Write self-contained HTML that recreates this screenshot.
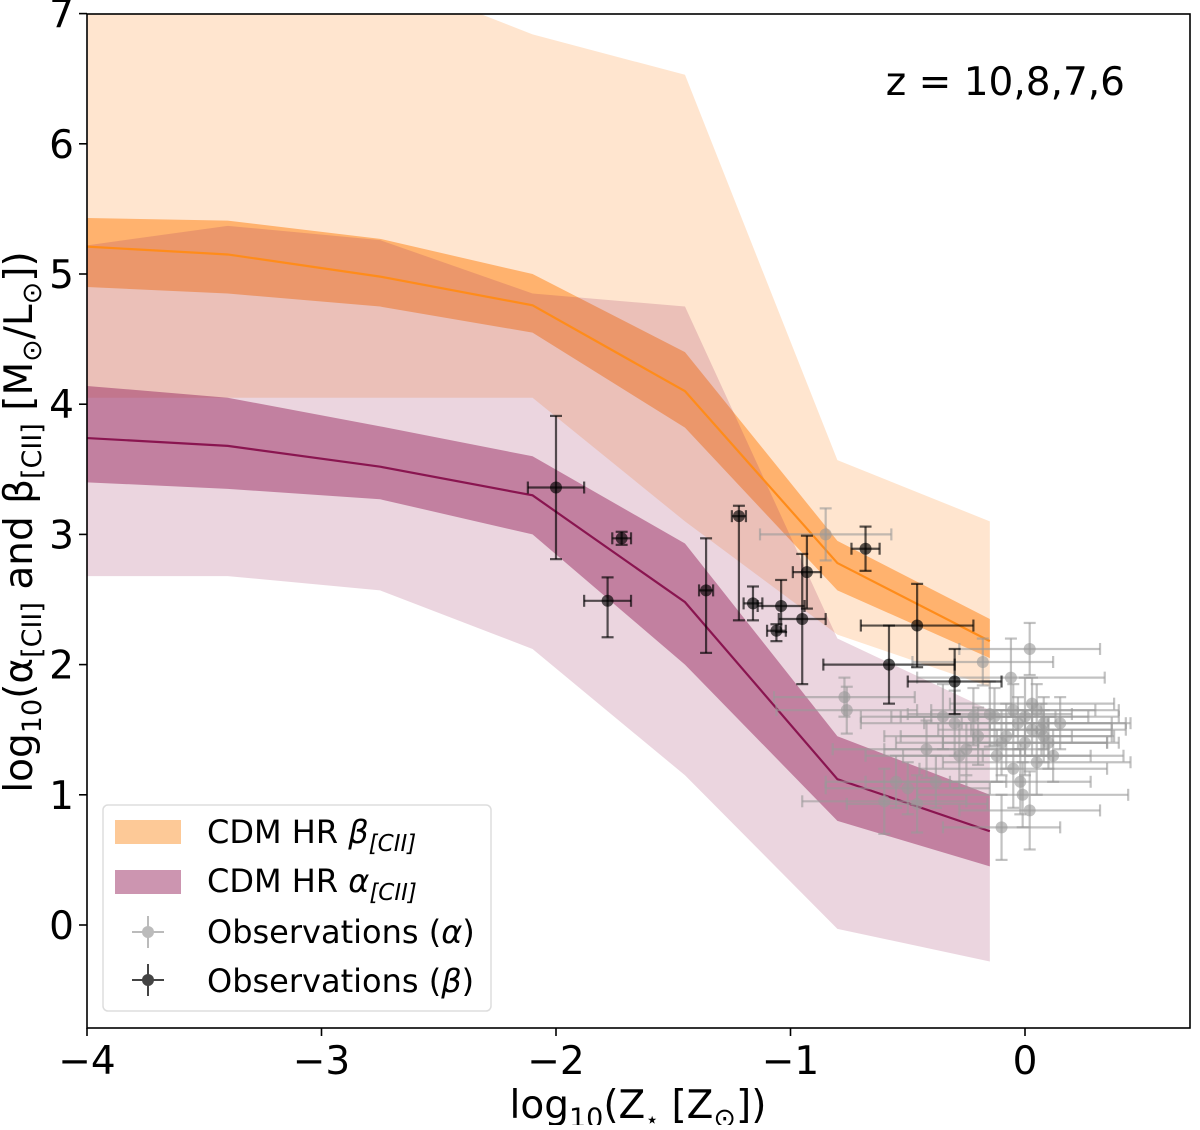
<!DOCTYPE html>
<html><head><meta charset="utf-8"><style>
html,body{margin:0;padding:0;background:#fff;}
svg text{font-family:"DejaVu Sans","Liberation Sans",sans-serif;}
</style></head><body>
<svg id="chart" width="1200" height="1125" viewBox="0 0 1200 1125" xmlns="http://www.w3.org/2000/svg">
<defs><clipPath id="clip"><rect x="87" y="14" width="1103" height="1014"/></clipPath></defs>
<g id="plot" clip-path="url(#clip)"></g>
<g id="axes"></g>
</svg>
<script>
const gridX = [-4, -3.4, -2.75, -2.1, -1.45, -0.8, -0.15];
const betaMed = [5.21, 5.15, 4.98, 4.76, 4.1, 2.78, 2.18];
const betaDarkUp = [5.43, 5.41, 5.27, 5.0, 4.4, 2.95, 2.35];
const betaDarkLo = [4.9, 4.85, 4.75, 4.55, 3.82, 2.57, 2.05];
const betaLightUp = [7.8, 7.6, 7.3, 6.84, 6.53, 3.57, 3.1];
const betaLightLo = [4.05, 4.05, 4.05, 4.05, 3.1, 2.23, 1.83];
const alphaMed = [3.74, 3.68, 3.52, 3.3, 2.48, 1.12, 0.72];
const alphaDarkUp = [4.14, 4.05, 3.83, 3.6, 2.93, 1.45, 1.0];
const alphaDarkLo = [3.4, 3.35, 3.27, 3.0, 2.0, 0.8, 0.45];
const alphaLightUp = [5.22, 5.37, 5.26, 4.85, 4.75, 2.2, 1.65];
const alphaLightLo = [2.68, 2.68, 2.57, 2.12, 1.15, -0.03, -0.28];
const obsBx = [-2.0, -1.78, -1.72, -1.36, -1.22, -1.16, -1.04, -1.06, -0.95, -0.93, -0.68, -0.58, -0.46, -0.3];
const obsBy = [3.36, 2.49, 2.97, 2.57, 3.14, 2.47, 2.45, 2.26, 2.35, 2.71, 2.89, 2.0, 2.3, 1.87];
const obsBxe = [0.12, 0.1, 0.04, 0.03, 0.03, 0.04, 0.1, 0.04, 0.1, 0.06, 0.06, 0.28, 0.24, 0.2];
const obsBye = [0.55, 0.18, 0.05, 0.4, 0.08, 0.13, 0.2, 0.05, 0.5, 0.28, 0.17, 0.3, 0.32, 0.25];
const obsBye2 = [0.55, 0.28, 0.05, 0.48, 0.8, 0.13, 0.2, 0.08, 0.5, 0.28, 0.17, 0.3, 0.32, 0.25];
const obsAx = [-0.85, -0.77, -0.76, -0.55, -0.5, -0.42, -0.38, -0.35, -0.3, -0.25, -0.2, -0.18, -0.15, -0.12, -0.1, -0.08, -0.06, -0.05, -0.03, -0.02, 0.0, 0.0, 0.02, 0.03, 0.05, 0.05, 0.07, 0.08, 0.1, 0.12, 0.15, -0.28, -0.22, -0.1, -0.05, 0.02, 0.08, -0.13, -0.01, -0.6, -0.46, 0.03];
const obsAy = [3.0, 1.75, 1.65, 1.1, 1.05, 1.35, 1.1, 1.6, 1.55, 1.35, 1.45, 2.02, 1.62, 1.3, 0.75, 1.45, 1.9, 1.65, 1.55, 1.1, 1.6, 1.4, 2.12, 1.5, 1.65, 1.25, 1.5, 1.55, 1.4, 1.3, 1.55, 1.3, 1.6, 1.4, 1.2, 0.88, 1.45, 1.6, 1.0, 0.95, 0.93, 1.7];
const obsAxe = [0.28, 0.3, 0.3, 0.3, 0.35, 0.4, 0.3, 0.35, 0.4, 0.35, 0.4, 0.3, 0.35, 0.4, 0.25, 0.45, 0.4, 0.35, 0.4, 0.3, 0.4, 0.35, 0.3, 0.4, 0.35, 0.4, 0.3, 0.35, 0.3, 0.3, 0.3, 0.4, 0.35, 0.45, 0.4, 0.3, 0.3, 0.4, 0.45, 0.35, 0.3, 0.35];
const obsAye = [0.2, 0.15, 0.18, 0.2, 0.2, 0.22, 0.2, 0.25, 0.25, 0.2, 0.22, 0.18, 0.25, 0.2, 0.25, 0.25, 0.3, 0.2, 0.2, 0.25, 0.3, 0.25, 0.2, 0.2, 0.2, 0.25, 0.2, 0.2, 0.2, 0.2, 0.2, 0.25, 0.22, 0.25, 0.3, 0.3, 0.2, 0.22, 0.25, 0.25, 0.22, 0.2];
const xTicks = [-4, -3, -2, -1, 0];
const yTicks = [0, 1, 2, 3, 4, 5, 6, 7];

const X = v => 1025 + (v) * 234.5;
const Y = v => 925 - v * 130.2;
const NS = 'http://www.w3.org/2000/svg';
const plot = document.getElementById('plot');
const axes = document.getElementById('axes');
function mk(tag, attrs, parent) {
  const e = document.createElementNS(NS, tag);
  for (const k in attrs) e.setAttribute(k, attrs[k]);
  parent.appendChild(e);
  return e;
}
function band(up, lo, fill, op, name) {
  let d = gridX.map((x, i) => (i ? 'L' : 'M') + X(x) + ' ' + Y(up[i])).join(' ');
  for (let i = gridX.length - 1; i >= 0; i--) d += ' L' + X(gridX[i]) + ' ' + Y(lo[i]);
  const p = mk('path', {d: d + ' Z', fill: fill, 'fill-opacity': op}, plot);
  
  
}
function line(vals, color, name) {
  const p = mk('polyline', {points: gridX.map((x, i) => X(x) + ',' + Y(vals[i])).join(' '), fill: 'none', stroke: color, 'stroke-width': 2.2}, plot);
  
  
}
const OR = '#ff7f0e', PU = '#992b61';
band(betaLightUp, betaLightLo, OR, 0.2, 'beta-band-outer');
band(betaDarkUp, betaDarkLo, OR, 0.5, 'beta-band-inner');
band(alphaLightUp, alphaLightLo, PU, 0.2, 'alpha-band-outer');
band(alphaDarkUp, alphaDarkLo, PU, 0.5, 'alpha-band-inner');
line(betaMed, '#ff8c1a', 'beta-median-line');
line(alphaMed, '#8a1550', 'alpha-median-line');

function errpt(x, y, xe, yu, yd, color, op, name, parent) {
  const g = mk('g', {stroke: color, 'stroke-opacity': op, 'stroke-width': 2.2}, parent);
  
  
  const cx = X(x), cy = Y(y), x1 = X(x - xe), x2 = X(x + xe), y1 = Y(y + yu), y2 = Y(y - yd);
  mk('line', {x1: x1, x2: x2, y1: cy, y2: cy}, g);
  mk('line', {x1: cx, x2: cx, y1: y1, y2: y2}, g);
  mk('line', {x1: x1, x2: x1, y1: cy - 6, y2: cy + 6}, g);
  mk('line', {x1: x2, x2: x2, y1: cy - 6, y2: cy + 6}, g);
  mk('line', {x1: cx - 6, x2: cx + 6, y1: y1, y2: y1}, g);
  mk('line', {x1: cx - 6, x2: cx + 6, y1: y2, y2: y2}, g);
  mk('circle', {cx: cx, cy: cy, r: 6, fill: color, 'fill-opacity': op, stroke: 'none'}, g);
}
obsAx.forEach((x, i) => errpt(x, obsAy[i], obsAxe[i], obsAye[i], obsAye[i], '#999999', 0.6, 'obs-alpha-point', plot));
obsBx.forEach((x, i) => errpt(x, obsBy[i], obsBxe[i], obsBye[i], obsBye2[i], '#000000', 0.65, 'obs-beta-point', plot));

mk('rect', {x: 87, y: 14, width: 1103, height: 1014, fill: 'none', stroke: '#000', 'stroke-width': 1.6}, axes);
xTicks.forEach(t => {
  mk('line', {x1: X(t), x2: X(t), y1: 1028, y2: 1036, stroke: '#000', 'stroke-width': 1.6}, axes);
  const tx = mk('text', {x: X(t), y: 1074, 'font-size': 39, 'text-anchor': 'middle'}, axes);
  tx.textContent = t < 0 ? '\u2212' + Math.abs(t) : String(t);
  
  
});
yTicks.forEach(t => {
  mk('line', {x1: 79, x2: 87, y1: Y(t), y2: Y(t), stroke: '#000', 'stroke-width': 1.6}, axes);
  const tx = mk('text', {x: 74, y: Y(t) + 14, 'font-size': 39, 'text-anchor': 'end'}, axes);
  tx.textContent = String(t);
  
  
});
</script>
<svg style="position:absolute;left:0;top:0" width="1200" height="1125">
<text x="638" y="1118" font-size="39" text-anchor="middle" style="font-family:'DejaVu Sans',sans-serif">log<tspan font-size="27" dy="9">10</tspan><tspan dy="-9">(Z</tspan><tspan font-size="22" dy="9">⋆</tspan><tspan dy="-9"> [Z</tspan><tspan font-size="27" dy="9">⊙</tspan><tspan dy="-9">])</tspan></text>
<text transform="translate(32,522) rotate(-90)" font-size="39" text-anchor="middle" style="font-family:'DejaVu Sans',sans-serif">log<tspan font-size="27" dy="9">10</tspan><tspan dy="-9">(α</tspan><tspan font-size="27" dy="9">[CII]</tspan><tspan dy="-9"> and β</tspan><tspan font-size="27" dy="9">[CII]</tspan><tspan dy="-9"> [M</tspan><tspan font-size="27" dy="9">⊙</tspan><tspan dy="-9">/L</tspan><tspan font-size="27" dy="9">⊙</tspan><tspan dy="-9">])</tspan></text>
<text x="1125" y="95" font-size="39" text-anchor="end" style="font-family:'DejaVu Sans',sans-serif">z = 10,8,7,6</text>
<g style="font-family:'DejaVu Sans',sans-serif">
<rect x="103" y="805" width="388" height="206" rx="5" fill="#fff" fill-opacity="0.8" stroke="#ddd" stroke-width="1.5"/>
<g><rect x="115" y="820" width="66" height="24" fill="#fdc997"/><text x="207" y="843" font-size="32">CDM HR <tspan font-style="italic">β</tspan><tspan font-size="23" dy="8" font-style="italic">[CII]</tspan></text></g>
<g><rect x="115" y="870" width="66" height="24" fill="#cc95b0"/><text x="207" y="892" font-size="32">CDM HR <tspan font-style="italic">α</tspan><tspan font-size="23" dy="8" font-style="italic">[CII]</tspan></text></g>
<g stroke="#bbb" stroke-width="2"><line x1="132" x2="164" y1="932" y2="932"/><line x1="148" x2="148" y1="916" y2="948"/><circle cx="148" cy="932" r="6" fill="#bbb" stroke="none"/><text x="207" y="943" font-size="32" stroke="none" fill="#000">Observations (<tspan font-style="italic">α</tspan>)</text></g>
<g stroke="#444" stroke-width="2"><line x1="132" x2="164" y1="980" y2="980"/><line x1="148" x2="148" y1="964" y2="996"/><circle cx="148" cy="980" r="6" fill="#444" stroke="none"/><text x="207" y="992" font-size="32" stroke="none" fill="#000">Observations (<tspan font-style="italic">β</tspan>)</text></g>
</g>
</svg>
</body></html>
